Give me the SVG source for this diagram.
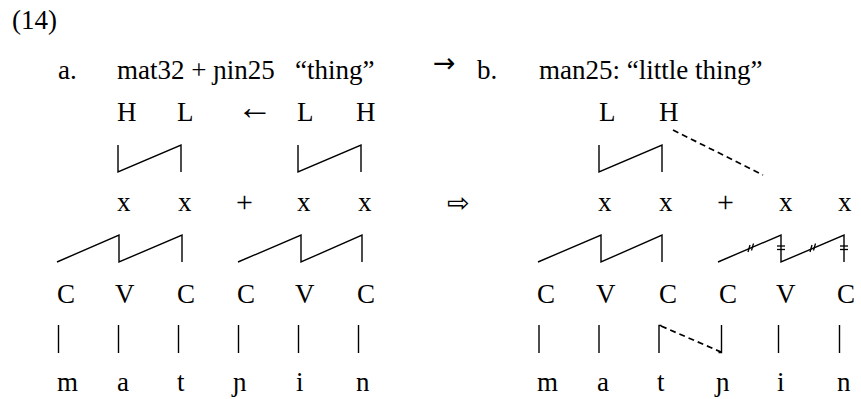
<svg xmlns="http://www.w3.org/2000/svg" width="861" height="399" viewBox="0 0 861 399">
<defs>
<style>
text{font-family:"Liberation Serif","DejaVu Serif",serif;font-size:27px;fill:#000}
text.sym{font-family:"DejaVu Sans","Liberation Sans",sans-serif}
text.la{font-size:36px}
text.pl{font-size:30px}
.ln{fill:none;stroke:#000;stroke-width:1.4;stroke-linecap:butt;stroke-linejoin:miter}
.dash{fill:none;stroke:#000;stroke-width:1.7;stroke-dasharray:6 4}
.tk{fill:none;stroke:#000;stroke-width:1.3}
</style>
</defs>
<rect width="861" height="399" fill="#fff"/>
<g id="heading">
<text x="12" y="29">(14)</text>
<text x="58" y="79">a.</text>
<text x="117" y="79">mat32 + ɲin25</text>
<text x="295" y="79">“thing”</text>
<text class="sym" x="433" y="72">→</text>
<text x="477" y="79">b.</text>
<text x="539" y="79">man25: “little thing”</text>
</g>
<g id="tones-a">
<text x="117" y="121">H</text>
<text x="177" y="121">L</text>
<text class="la" x="237" y="119">←</text>
<text x="297" y="121">L</text>
<text x="356" y="121">H</text>
</g>
<g id="tones-b">
<text x="599" y="121">L</text>
<text x="659" y="121">H</text>
</g>
<g id="skeleton-a">
<text x="117" y="211">x</text>
<text x="178" y="211">x</text>
<text class="pl" x="236" y="212">+</text>
<text x="297" y="211">x</text>
<text x="358" y="211">x</text>
</g>
<g id="change-arrow">
<text class="sym" x="447" y="212">⇨</text>
</g>
<g id="skeleton-b">
<text x="598" y="211">x</text>
<text x="659" y="211">x</text>
<text class="pl" x="717" y="212">+</text>
<text x="779" y="211">x</text>
<text x="838" y="211">x</text>
</g>
<g id="cv-a">
<text x="57" y="303">C</text>
<text x="115" y="303">V</text>
<text x="177" y="303">C</text>
<text x="237" y="303">C</text>
<text x="295" y="303">V</text>
<text x="357" y="303">C</text>
</g>
<g id="cv-b">
<text x="537" y="303">C</text>
<text x="596" y="303">V</text>
<text x="659" y="303">C</text>
<text x="719" y="303">C</text>
<text x="776" y="303">V</text>
<text x="837" y="303">C</text>
</g>
<g id="segments-a">
<text x="57" y="391">m</text>
<text x="117" y="391">a</text>
<text x="177" y="391">t</text>
<text x="233" y="391">ɲ</text>
<text x="296" y="391">i</text>
<text x="356" y="391">n</text>
</g>
<g id="segments-b">
<text x="537" y="391">m</text>
<text x="597" y="391">a</text>
<text x="657" y="391">t</text>
<text x="716" y="391">ɲ</text>
<text x="777" y="391">i</text>
<text x="837" y="391">n</text>
</g>
<g id="connectors">
<polyline class="ln" points="118,145 118,172 181,145 181,172"/>
<polyline class="ln" points="298,145 298,172 361,145 361,172"/>
<polyline class="ln" points="599,145 599,172 662,145 662,172"/>
<line class="dash" x1="673" y1="130" x2="763" y2="175"/>
<polyline class="ln" points="57,262 119,235 119,262 182,235 182,262"/>
<polyline class="ln" points="238,262 301,235 301,262 362,235 362,262"/>
<polyline class="ln" points="538,262 601,235 601,262 662,235 662,262"/>
<polyline class="ln" points="718,262 781,235 781,262 844,235 844,262"/>
<line class="tk" x1="748" y1="252" x2="750" y2="245"/>
<line class="tk" x1="751.5" y1="250.5" x2="753.5" y2="243.5"/>
<line class="tk" x1="810" y1="252" x2="812" y2="245"/>
<line class="tk" x1="813.5" y1="250.5" x2="815.5" y2="243.5"/>
<line class="tk" x1="777" y1="246" x2="785" y2="246"/>
<line class="tk" x1="777" y1="249.5" x2="785" y2="249.5"/>
<line class="tk" x1="840" y1="246" x2="848" y2="246"/>
<line class="tk" x1="840" y1="249.5" x2="848" y2="249.5"/>
<line class="ln" x1="58.5" y1="325" x2="58.5" y2="353"/>
<line class="ln" x1="118.5" y1="325" x2="118.5" y2="353"/>
<line class="ln" x1="178.5" y1="325" x2="178.5" y2="353"/>
<line class="ln" x1="238.5" y1="325" x2="238.5" y2="353"/>
<line class="ln" x1="298.5" y1="325" x2="298.5" y2="353"/>
<line class="ln" x1="358.5" y1="325" x2="358.5" y2="353"/>
<line class="ln" x1="539" y1="325" x2="539" y2="353"/>
<line class="ln" x1="599" y1="325" x2="599" y2="353"/>
<polyline class="ln" points="661.5,325.5 659,325.5 659,353"/>
<line class="dash" x1="661" y1="326" x2="721" y2="352"/>
<polyline class="ln" points="718.5,352.5 721.5,352.5 721.5,325"/>
<line class="ln" x1="778.5" y1="325" x2="778.5" y2="353"/>
<line class="ln" x1="839.5" y1="325" x2="839.5" y2="353"/>
</g>
</svg>
